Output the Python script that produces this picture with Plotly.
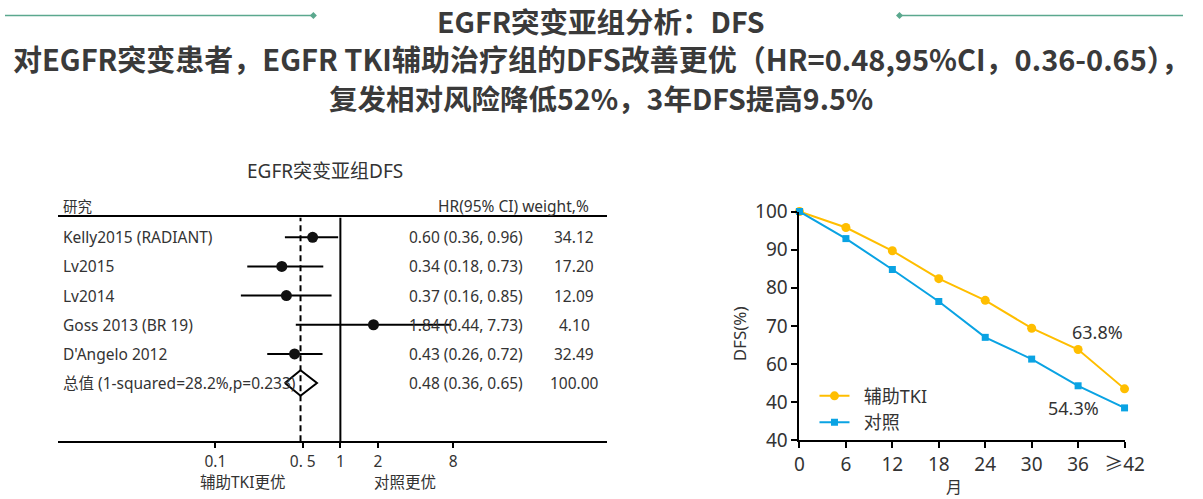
import plotly.graph_objects as go

W, H = 1203, 499
# measured relation between figure pixels and the photographed window pixels
SX, SY = 0.979, 0.953
OX, OY = 4.7, 10.4

# ---------------- data ----------------
studies = ["Kelly2015 (RADIANT)", "Lv2015", "Lv2014", "Goss 2013 (BR 19)", "D'Angelo 2012"]
hr = [0.60, 0.34, 0.37, 1.84, 0.43]
ci_lo = [0.36, 0.18, 0.16, 0.44, 0.26]
ci_hi = [0.96, 0.73, 0.85, 7.73, 0.72]
weights = ["34.12", "17.20", "12.09", "4.10", "32.49"]
pooled_label = "总值 (1-squared=28.2%,p=0.233)"
pooled_hr, pooled_lo, pooled_hi = 0.48, 0.36, 0.65
pooled_weight = "100.00"
forest_tickvals = [0.1, 0.5, 1, 2, 8]
forest_ticktext = ["0.1", "0. 5", "1", "2", "8"]

months = [0, 6, 12, 18, 24, 30, 36, 42]
month_labels = ["0", "6", "12", "18", "24", "30", "36", "≥42"]
dfs_tki = [100, 95.8, 89.7, 82.4, 76.7, 69.4, 63.8, 53.5]
dfs_ctrl = [100, 92.9, 84.8, 76.4, 67.0, 61.3, 54.3, 48.5]
dfs_ytickvals = [40, 50, 60, 70, 80, 90, 100]
dfs_yticktext = ["40", "40", "60", "70", "80", "90", "100"]


def px(X):
    return ((X - OX) / SX) / W


def py(Y):
    return 1 - ((Y - OY) / SY) / H


TXT = "#333333"
FONT = "Noto Sans, Noto Sans CJK SC, sans-serif"
CJK = "Noto Sans CJK SC, sans-serif"
YEL = "#FFBE00"
BLU = "#0AA3E3"
FS = 15.5

fig = go.Figure()

# ---------------- forest plot ----------------
n = len(studies)
rows = [7 - i for i in range(n)]
pooled_row = 2
YTOP = 7.68

ex, ey = [], []
for lo, hi, r in zip(ci_lo, ci_hi, rows):
    ex += [lo, hi, None]
    ey += [r, r, None]
fig.add_trace(go.Scatter(x=ex, y=ey, mode="lines", line=dict(color="black", width=2),
                         xaxis="x", yaxis="y", showlegend=False, hoverinfo="skip"))
fig.add_trace(go.Scatter(x=hr, y=rows, mode="markers",
                         marker=dict(color="#111111", size=11, symbol="circle"),
                         xaxis="x", yaxis="y", showlegend=False))
d = 0.44
fig.add_trace(go.Scatter(x=[pooled_lo, pooled_hr, pooled_hi, pooled_hr, pooled_lo],
                         y=[pooled_row, pooled_row + d, pooled_row, pooled_row - d, pooled_row],
                         mode="lines", fill="toself", fillcolor="white",
                         line=dict(color="black", width=2), xaxis="x", yaxis="y",
                         showlegend=False, hoverinfo="skip"))
fig.add_trace(go.Scatter(x=[1, 1], y=[0, YTOP], mode="lines", line=dict(color="black", width=2),
                         xaxis="x", yaxis="y", showlegend=False, hoverinfo="skip"))
fig.add_trace(go.Scatter(x=[pooled_hr, pooled_hr], y=[0, YTOP], mode="lines",
                         line=dict(color="black", width=2, dash="6px,4px"),
                         xaxis="x", yaxis="y", showlegend=False, hoverinfo="skip"))

ann = []
for s, r in zip(studies + [pooled_label], rows + [pooled_row]):
    ann.append(dict(text=s, x=px(61), y=r, xref="paper", yref="y", xanchor="left",
                    yanchor="middle", showarrow=False, font=dict(size=FS, color=TXT, family=FONT)))
for lo, h, hi, w, r in zip(ci_lo + [pooled_lo], hr + [pooled_hr], ci_hi + [pooled_hi],
                           weights + [pooled_weight], rows + [pooled_row]):
    ann.append(dict(text=f"{h:.2f} ({lo:.2f}, {hi:.2f})", x=px(466), y=r, xref="paper", yref="y",
                    xanchor="center", yanchor="middle", showarrow=False,
                    font=dict(size=FS, color=TXT, family=FONT)))
    ann.append(dict(text=w, x=px(574), y=r, xref="paper", yref="y", xanchor="center",
                    yanchor="middle", showarrow=False, font=dict(size=FS, color=TXT, family=FONT)))

extra = [
    dict(text="研究", x=px(61), y=py(204), xanchor="left", yanchor="middle", size=14.5),
    dict(text="HR(95% CI) weight,%", x=px(591), y=py(204), xanchor="right", yanchor="middle", size=FS),
    dict(text="EGFR突变亚组DFS", x=px(325), y=py(169), xanchor="center", yanchor="middle", size=19),
    dict(text="辅助TKI更优", x=px(242), y=py(482), xanchor="center", yanchor="middle", size=FS),
    dict(text="对照更优", x=px(405), y=py(482), xanchor="center", yanchor="middle", size=FS),
]
for a in extra:
    a.update(xref="paper", yref="paper", showarrow=False,
             font=dict(size=a.pop("size"), color=TXT, family=FONT))
ann += extra

# ---------------- DFS line chart ----------------
fig.add_trace(go.Scatter(x=months, y=dfs_tki, mode="lines+markers", name="\u00a0\u00a0辅助TKI",
                         line=dict(color=YEL, width=2), marker=dict(color=YEL, size=9, symbol="circle"),
                         xaxis="x2", yaxis="y2", cliponaxis=False))
fig.add_trace(go.Scatter(x=months, y=dfs_ctrl, mode="lines+markers", name="\u00a0\u00a0对照",
                         line=dict(color=BLU, width=2), marker=dict(color=BLU, size=7, symbol="square"),
                         xaxis="x2", yaxis="y2", cliponaxis=False))

ann += [
    dict(text=f"{dfs_tki[6]:.1f}%", x=36, y=dfs_tki[6], xref="x2", yref="y2", xshift=19, yshift=18,
         xanchor="center", yanchor="middle",
         showarrow=False, font=dict(size=18, color=TXT, family=FONT)),
    dict(text=f"{dfs_ctrl[6]:.1f}%", x=36, y=dfs_ctrl[6], xref="x2", yref="y2", xshift=-5, yshift=-22,
         xanchor="center", yanchor="middle",
         showarrow=False, font=dict(size=18, color=TXT, family=FONT)),
    dict(text="DFS(%)", x=px(739), y=py(333), xref="paper", yref="paper", textangle=-90,
         xanchor="center", yanchor="middle",
         showarrow=False, font=dict(size=17, color=TXT, family=FONT)),
    dict(text="月", x=px(953), y=py(486), xref="paper", yref="paper",
         xanchor="center", yanchor="middle",
         showarrow=False, font=dict(size=16, color=TXT, family=CJK)),
]

# ---------------- titles ----------------
title_lines = [
    ("EGFR突变亚组分析：DFS", 18, 28.5),
    ("对EGFR突变患者，EGFR TKI辅助治疗组的DFS改善更优（HR=0.48,95%CI，0.36-0.65），", 56, 29),
    ("复发相对风险降低52%，3年DFS提高9.5%", 95, 28.5),
]
for t, y, s in title_lines:
    ann.append(dict(text=f"<b>{t}</b>", x=px(601), y=py(y), xref="paper", yref="paper",
                    xanchor="center", yanchor="middle", showarrow=False,
                    font=dict(size=s, color="#3a3a3a", family=CJK)))

GREEN = "#5BA88E"
shapes = [
    dict(type="line", xref="paper", yref="paper", x0=0, x1=px(312), y0=py(13), y1=py(13),
         line=dict(color=GREEN, width=1.5)),
    dict(type="line", xref="paper", yref="paper", x0=px(899), x1=1, y0=py(13), y1=py(13),
         line=dict(color=GREEN, width=1.5)),
]
for cx in (313, 899):
    shapes.append(dict(type="path", xref="paper", yref="paper",
                       path=f"M {px(cx-3.5)} {py(13)} L {px(cx)} {py(9.5)} L {px(cx+3.5)} {py(13)} L {px(cx)} {py(16.5)} Z",
                       fillcolor=GREEN, line=dict(color=GREEN, width=0)))

fig.update_layout(
    width=W, height=H, margin=dict(l=0, r=0, t=0, b=0),
    paper_bgcolor="white", plot_bgcolor="rgba(0,0,0,0)",
    annotations=ann, shapes=shapes,
    xaxis=dict(type="log", domain=[px(58), px(607)], range=[-2.256, 2.136],
               showline=True, linecolor="black", linewidth=2, mirror=True,
               ticks="outside", ticklen=5, tickwidth=1.5, tickcolor="black",
               tickvals=forest_tickvals, ticktext=forest_ticktext,
               tickfont=dict(size=FS, color=TXT, family=FONT),
               showgrid=False, zeroline=False, anchor="y"),
    yaxis=dict(domain=[py(441), py(216)], range=[0, YTOP], visible=False, anchor="x"),
    xaxis2=dict(domain=[px(799), px(1124)], range=[0, 42], anchor="y2",
                showline=True, linecolor="black", linewidth=2,
                ticks="outside", ticklen=6, tickwidth=2, tickcolor="black",
                tickvals=months, ticktext=month_labels,
                tickfont=dict(size=19, color=TXT, family=FONT),
                showgrid=False, zeroline=False),
    yaxis2=dict(domain=[py(440), py(210)], range=[40, 100], anchor="x2",
                showline=True, linecolor="black", linewidth=2,
                ticks="outside", ticklen=6, tickwidth=2, tickcolor="black",
                tickvals=dfs_ytickvals, ticktext=dfs_yticktext,
                tickfont=dict(size=19, color=TXT, family=FONT),
                showgrid=False, zeroline=False),
    legend=dict(x=px(814), y=py(377), xanchor="left", yanchor="top",
                bgcolor="rgba(0,0,0,0)", font=dict(size=18, color=TXT, family=FONT),
                itemwidth=30, tracegroupgap=0),
    showlegend=True,
)

fig.write_html("out.html", config={"displayModeBar": False},
               post_script="document.body.style.margin='0';")
